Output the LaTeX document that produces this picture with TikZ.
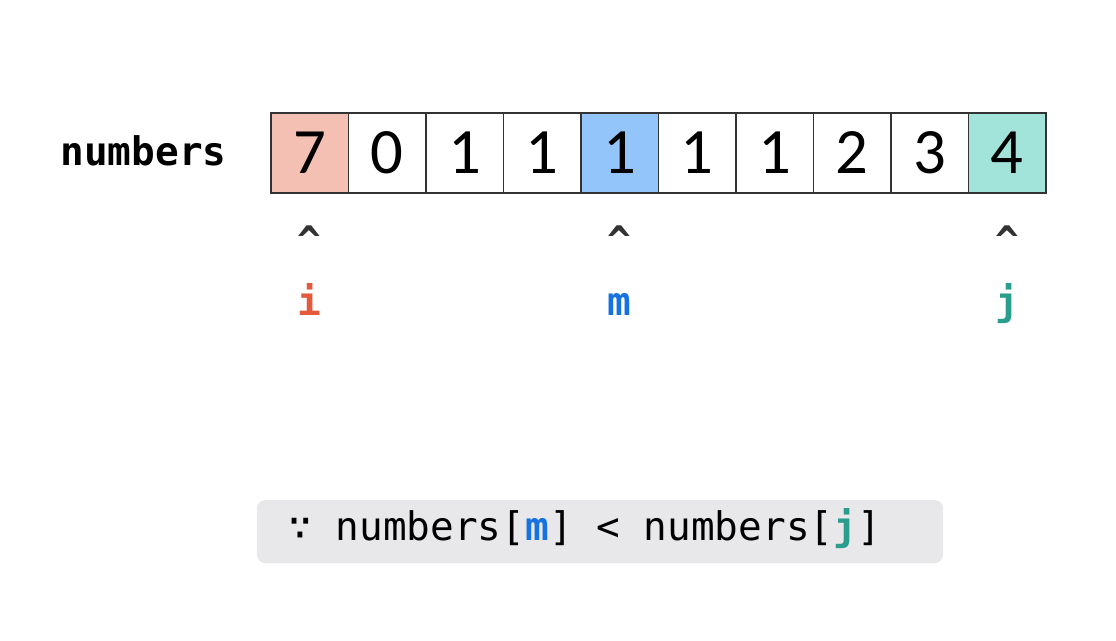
\documentclass[tikz,border=0pt]{standalone}
\usepackage{fontspec}
\setmonofont{DejaVu Sans Mono}
\newfontfamily\digitfont{Carlito}
\usetikzlibrary{positioning}
\definecolor{cellline}{HTML}{333333}
\definecolor{ifill}{HTML}{F4C0B3}
\definecolor{mfill}{HTML}{93C5FB}
\definecolor{jfill}{HTML}{A3E4DA}
\definecolor{icol}{HTML}{E35B3C}
\definecolor{mcol}{HTML}{1672E0}
\definecolor{jcol}{HTML}{2A9D8F}
\definecolor{boxgray}{HTML}{E8E7EA}

\begin{document}
\begin{tikzpicture}[x=0.025cm,y=0.025cm,
    cell/.style={draw=cellline,line width=1.3pt,minimum width=1.9375cm,minimum height=2cm,
      inner sep=0pt,font=\digitfont\fontsize{46}{46}\selectfont},
    mono/.style={font=\ttfamily\fontsize{28}{28}\selectfont,inner sep=0pt}]
  \useasboundingbox (0,0) rectangle (1116,-640);
  \node[mono,anchor=base,font=\ttfamily\bfseries\fontsize{28}{28}\selectfont] (lbl) at (143.5,-165) {numbers};
  \foreach \j/\v/\f in {1/7/ifill,2/0/white,3/1/white,4/1/white,5/1/mfill,6/1/white,7/1/white,8/2/white,9/3/white,10/4/jfill}
    \node[cell,fill=\f] (c\j) at ({271+77.5*(\j-0.5)},-153) {\v};
  \foreach \j/\p/\c in {1/i/icol,5/m/mcol,10/j/jcol} {
    \node[mono,anchor=base,text=cellline,font=\ttfamily\bfseries\fontsize{28}{28}\selectfont] (up\p) at ({271+77.5*(\j-0.5)},-254) {\textasciicircum};
    \node[mono,anchor=base,text=\c,font=\ttfamily\bfseries\fontsize{28}{28}\selectfont] (ptr\p) at ({271+77.5*(\j-0.5)},-315) {\p};
  }
  \node[fill=boxgray,rounded corners=6pt,minimum width=17.15cm,minimum height=1.575cm,inner sep=0pt] (cond) at (600,-531.5) {};
  \node[mono,anchor=base west] (condtxt) at (288,-540) {∵ numbers[\textcolor{mcol}{\bfseries m}] < numbers[\textcolor{jcol}{\bfseries j}]};
\end{tikzpicture}
\end{document}
